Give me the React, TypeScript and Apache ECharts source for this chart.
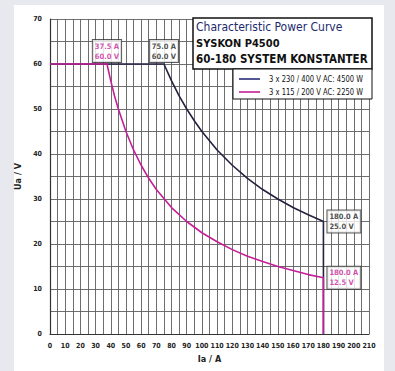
import React, { useEffect, useRef } from "react";
import * as echarts from "echarts";

const darkCurrent = [0, 75, 80, 85, 90, 95, 100, 110, 120, 130, 140, 150, 160, 170, 180, 180];
const darkVoltage = [60, 60, 56.25, 52.9, 50, 47.4, 45, 40.9, 37.5, 34.6, 32.1, 30, 28.1, 26.5, 25, 0];
const pinkCurrent = [0, 37.5, 40, 42.5, 45, 50, 55, 60, 65, 70, 80, 90, 100, 110, 120, 130, 140, 150, 160, 170, 180, 180];
const pinkVoltage = [60, 60, 56.25, 52.9, 50, 45, 40.9, 37.5, 34.6, 32.1, 28.1, 25, 22.5, 20.5, 18.75, 17.3, 16.1, 15, 14.1, 13.2, 12.5, 0];
const darkName = "3 x 230 / 400 V AC: 4500 W";
const pinkName = "3 x 115 / 200 V AC: 2250 W";
const annotPoints = [
  { x: 37.5, y: 60, text: "37.5 A\n60.0 V", color: "pink", pos: "top" },
  { x: 75, y: 60, text: "75.0 A\n60.0 V", color: "dark", pos: "top" },
  { x: 180, y: 25, text: "180.0 A\n25.0 V", color: "dark", pos: "right" },
  { x: 180, y: 12.5, text: "180.0 A\n12.5 V", color: "pink", pos: "right" },
];
const titleLines = ["Characteristic Power Curve", "SYSKON P4500", "60-180 SYSTEM KONSTANTER"];

const DARK = "#25213f";
const PINK = "#c51f98";
const NARROW = "'Liberation Sans Narrow', 'DejaVu Sans Condensed', 'Liberation Sans', sans-serif";

export default function App() {
  const ref = useRef<HTMLDivElement>(null);
  useEffect(() => {
    if (!ref.current) return;
    const chart = echarts.init(ref.current, null, { renderer: "svg" });
    const zip = (a: number[], b: number[]) => a.map((v, i) => [v, b[i]]);
    const axisLabel = {
      fontFamily: NARROW,
      fontWeight: "bold",
      fontSize: 7,
      color: "#222",
      margin: 8,
      formatter: (v: number) => (v % 10 === 0 ? String(v) : ""),
    };
    const splitLine = { show: true, lineStyle: { color: "#5e5e5e", width: 0.9 } };
    chart.setOption({
      animation: false,
      backgroundColor: "transparent",
      grid: { left: 50, top: 19, right: 26, bottom: 37 },
      xAxis: {
        type: "value",
        min: 0,
        max: 210,
        interval: 5,
        name: "Ia / A",
        nameLocation: "middle",
        nameGap: 20,
        nameTextStyle: { fontFamily: NARROW, fontWeight: "bold", fontSize: 9, color: "#222" },
        axisLine: { show: true, lineStyle: { color: "#333", width: 1.2 } },
        axisTick: { show: false },
        axisLabel,
        splitLine,
      },
      yAxis: {
        type: "value",
        min: 0,
        max: 70,
        interval: 5,
        name: "Ua / V",
        nameLocation: "middle",
        nameGap: 18,
        nameTextStyle: { fontFamily: NARROW, fontWeight: "bold", fontSize: 9, color: "#222" },
        axisLine: { show: true, lineStyle: { color: "#333", width: 1.2 } },
        axisTick: { show: false },
        axisLabel,
        splitLine,
      },
      series: [
        {
          name: darkName,
          type: "line",
          data: zip(darkCurrent, darkVoltage),
          showSymbol: false,
          lineStyle: { color: DARK, width: 1.6 },
          z: 3,
        },
        {
          name: pinkName,
          type: "line",
          data: zip(pinkCurrent, pinkVoltage),
          showSymbol: false,
          lineStyle: { color: PINK, width: 1.6 },
          z: 4,
        },
        {
          type: "scatter",
          symbolSize: 0,
          z: 6,
          data: annotPoints.map((p) => ({
            value: [p.x, p.y],
            label: {
              show: true,
              position: p.pos,
              distance: p.pos === "top" ? 2 : 4,
              formatter: p.text,
              color: p.color === "pink" ? PINK : "#222",
              fontFamily: NARROW,
              fontWeight: "bold",
              fontSize: 7.5,
              lineHeight: 10,
              align: p.pos === "top" ? "center" : "left",
              backgroundColor: "#fff",
              borderColor: "#333",
              borderWidth: 1,
              padding: [1, 2, 1, 2],
            },
          })),
        },
      ],
      graphic: [
        {
          type: "rect",
          shape: { x: 193, y: 18, width: 179, height: 51 },
          style: { fill: "#fff", stroke: "#111", lineWidth: 1.5 },
          z: 10,
        },
        {
          type: "text",
          x: 196,
          y: 27,
          style: { text: titleLines[0], fill: "#1d2a6e", font: `12px ${NARROW}`, verticalAlign: "middle" },
          z: 11,
        },
        {
          type: "text",
          x: 196,
          y: 43,
          style: { text: titleLines[1], fill: "#111", font: `bold 11px ${NARROW}`, verticalAlign: "middle" },
          z: 11,
        },
        {
          type: "text",
          x: 196,
          y: 59,
          style: { text: titleLines[2], fill: "#111", font: `bold 11.5px ${NARROW}`, verticalAlign: "middle" },
          z: 11,
        },
        {
          type: "rect",
          shape: { x: 233, y: 69, width: 139, height: 30 },
          style: { fill: "#fff", stroke: "#111", lineWidth: 1 },
          z: 10,
        },
        {
          type: "line",
          shape: { x1: 239, y1: 79, x2: 260, y2: 79 },
          style: { stroke: "#2b2c7a", lineWidth: 1.6 },
          z: 11,
        },
        {
          type: "line",
          shape: { x1: 239, y1: 92, x2: 260, y2: 92 },
          style: { stroke: PINK, lineWidth: 1.6 },
          z: 11,
        },
        {
          type: "text",
          x: 269,
          y: 79,
          scaleX: 0.84,
          style: { text: darkName, fill: "#111", font: `9px ${NARROW}`, align: "left", verticalAlign: "middle" },
          z: 11,
        },
        {
          type: "text",
          x: 269,
          y: 92,
          scaleX: 0.84,
          style: { text: pinkName, fill: "#111", font: `9px ${NARROW}`, align: "left", verticalAlign: "middle" },
          z: 11,
        },
      ],
    });
    return () => chart.dispose();
  }, []);
  return (
    <div style={{ position: "fixed", left: 0, top: 0, width: 395, height: 371, background: "#e8e9ef" }}>
      <div style={{ position: "absolute", left: 14, top: 5, width: 370, height: 366, background: "#fff" }} />
      <div ref={ref} style={{ position: "absolute", left: 0, top: 0, width: 395, height: 371 }} />
    </div>
  );
}
